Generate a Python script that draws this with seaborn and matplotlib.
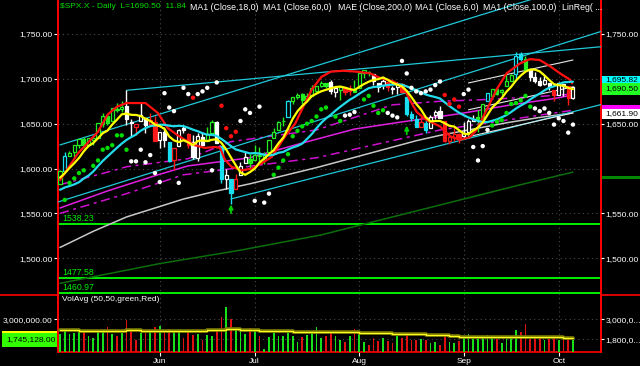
import numpy as np
import pandas as pd
import matplotlib
matplotlib.use("Agg")
import matplotlib.pyplot as plt
from matplotlib.patches import Rectangle
from matplotlib.lines import Line2D
import seaborn as sns

# ---------------- data (S&P 500 daily, 2 May - 4 Oct 2013) ----------------
open_px = [1582.77,1597.60,1614.40,1618.36,1625.95,1632.69,1626.69,1632.10,1633.75,1649.13,1658.07,1652.45,1665.71,1666.20,1669.39,1651.62,1646.67,1652.63,1656.57,1649.14,1652.13,
           1631.71,1640.73,1629.05,1609.94,1625.27,1644.67,1638.64,1629.94,1612.15,1635.52,1630.64,1639.77,1651.83,1624.62,1588.62,1588.77,1577.52,1592.27,1606.44,1611.12,
           1609.78,1614.29,1611.48,1618.65,1634.20,1642.89,1652.50,1657.41,1675.26,1679.59,1682.70,1677.91,1681.05,1686.15,1692.09,1695.53,1696.06,1685.21,1687.31,1690.32,1687.92,1687.76,
           1689.42,1706.10,1708.01,1705.79,1695.30,1693.35,1696.10,1688.37,1690.65,1693.88,1679.61,1661.22,1655.25,1646.81,1650.66,1645.03,1659.92,1664.29,1652.54,1630.25,1633.50,1638.89,
           1635.95,1640.72,1653.28,1657.44,1656.85,1675.11,1681.04,1689.21,1685.04,1691.70,1697.73,1705.74,1727.34,1722.44,1711.44,1702.60,1698.02,1694.05,1695.52,1687.26,
           1682.41,1691.90,1692.35,1678.79]
high_px = [1598.60,1618.46,1619.77,1626.03,1632.78,1635.01,1633.70,1636.00,1651.10,1661.49,1660.51,1667.47,1672.84,1674.93,1687.18,1655.50,1649.78,1674.21,1656.57,1661.91,1658.99,
           1640.42,1646.53,1629.31,1622.56,1644.40,1648.69,1640.13,1637.71,1639.25,1640.80,1646.50,1654.19,1652.45,1624.62,1599.19,1588.77,1593.79,1606.83,1620.07,1615.94,
           1626.61,1624.26,1618.97,1632.07,1644.68,1652.48,1657.92,1676.63,1680.19,1684.51,1683.73,1684.75,1693.12,1692.09,1697.61,1695.53,1698.38,1690.94,1691.85,1690.92,1693.19,1698.43,
           1707.85,1709.67,1709.24,1705.79,1695.30,1700.18,1699.42,1691.49,1696.81,1695.52,1679.61,1663.60,1659.18,1658.92,1656.99,1659.55,1664.85,1669.51,1652.54,1641.18,1646.41,1640.08,
           1651.35,1655.72,1659.17,1664.83,1672.40,1684.09,1689.13,1689.97,1688.73,1704.95,1705.52,1729.44,1729.86,1725.23,1711.44,1707.63,1701.71,1703.85,1695.52,1687.26,
           1696.55,1693.87,1692.35,1691.94]
low_px = [1582.77,1597.60,1614.21,1611.82,1622.70,1623.09,1623.71,1626.74,1633.75,1646.68,1648.60,1652.45,1663.52,1662.67,1648.86,1635.53,1636.88,1652.63,1640.05,1648.61,1630.74,
          1622.72,1623.62,1607.09,1598.23,1625.27,1639.26,1622.92,1610.92,1608.07,1623.96,1630.34,1639.77,1628.91,1584.32,1577.70,1560.33,1577.09,1592.27,1606.44,1601.06,
          1609.78,1606.77,1604.57,1614.71,1634.20,1642.89,1647.66,1657.41,1672.33,1677.89,1671.84,1677.91,1681.05,1684.08,1690.67,1690.09,1682.57,1680.07,1676.03,1681.86,1682.42,1684.94,
          1689.42,1700.68,1703.55,1693.29,1684.91,1688.38,1686.02,1683.35,1682.62,1684.83,1658.59,1652.61,1645.84,1646.08,1639.43,1645.03,1654.81,1656.02,1629.05,1627.47,1630.88,1628.05,
          1633.41,1637.41,1653.07,1640.62,1656.85,1675.11,1678.70,1681.96,1682.22,1691.70,1697.73,1700.35,1720.20,1708.89,1697.10,1694.90,1691.88,1693.11,1687.11,1674.99,
          1682.07,1680.34,1670.36,1677.33]
close_px = [1597.59,1614.42,1617.50,1625.96,1632.69,1626.67,1633.70,1633.77,1650.34,1658.78,1650.47,1667.47,1666.29,1669.16,1655.35,1650.51,1649.60,1660.06,1648.36,1654.41,1630.74,
            1640.42,1631.38,1608.90,1622.56,1643.38,1642.81,1626.13,1612.52,1636.36,1626.73,1639.04,1651.81,1628.93,1588.19,1592.43,1573.09,1588.03,1603.26,1613.20,1606.28,
            1614.96,1614.08,1615.41,1631.89,1640.46,1652.32,1652.62,1675.02,1680.19,1682.50,1676.26,1680.91,1689.37,1692.09,1695.53,1692.39,1685.94,1690.25,1691.65,1685.33,1685.96,1685.73,
            1706.87,1709.67,1707.14,1697.37,1690.91,1697.48,1691.42,1689.47,1694.16,1685.39,1661.32,1655.83,1646.06,1652.35,1642.80,1656.96,1663.50,1656.78,1630.48,1634.96,1638.17,1632.97,
            1639.77,1653.08,1655.08,1655.17,1671.71,1683.99,1689.13,1683.42,1687.99,1697.60,1704.76,1725.52,1722.34,1709.91,1701.84,1697.42,1692.77,1698.67,1691.75,1681.55,
            1695.00,1693.87,1678.66,1690.50]
# closes 9 Apr - 1 May 2013 (history for the moving averages)
prior_close = [1568.61,1587.73,1593.37,1588.85,1552.36,1574.57,1552.01,1541.61,1555.25,1562.50,
               1578.78,1578.79,1585.16,1582.24,1593.61,1597.57,1582.70]
# paint-bar state: g=green, r=red, w=white, c=cyan
bar_signal = ("gcgggggggggggg" "wwrwwrr" "wwcrwwrwww" "ggwcwcrwwg" "gggggggcgg"
              "ggggggwwgr" "rggggwwwrw" "wrcccrcwww" "rrrrwwwggc" "gggggccgww" "wwwrwwrw")
volume = [2.13,2.37,2.10,2.17,2.31,2.21,1.96,1.86,2.31,2.31,2.51,2.10,1.96,2.17,2.94,2.43,1.76,2.17,2.17,2.31,2.51,
          2.57,2.27,2.43,2.37,2.27,1.86,2.21,2.07,2.10,1.76,2.07,1.96,2.31,3.12,3.75,3.02,2.37,2.37,2.13,2.45,
          2.27,1.96,1.19,1.92,2.17,2.00,2.00,2.17,1.96,1.62,1.92,2.07,2.31,2.51,1.86,1.96,2.21,1.96,1.76,1.62,2.00,2.41,
          2.10,1.62,1.46,1.86,1.70,1.86,1.70,1.55,2.00,1.86,2.13,1.76,1.72,1.80,1.72,1.55,1.60,1.46,2.10,1.62,1.55,1.70,
          1.96,2.13,1.80,1.80,1.96,2.07,1.86,1.80,1.55,1.80,1.96,2.33,2.21,2.71,1.80,1.96,1.86,1.76,1.80,1.96,
          1.76,1.92,1.86,1.745128]  # millions
volavg_idx = [0,4,14,17,30,31,35,38,42,49,59,63,70,77,82,84,87,106,108]
volavg_val = [2.33,2.29,2.37,2.31,2.27,2.33,2.41,2.35,2.29,2.25,2.21,2.17,2.11,2.05,2.00,1.94,1.90,1.86,1.86]

red_line_idx = [0,3.8,8,10,12,14,18,20.6,22.7,24.8,26.3,28.4,30.5,32.6,33.7,34.7,36.1,38.3,40.4,42.5,44.6,47.4,49.5,51.6,53,55,57,59.6,62.5,65.3,67.4,70.2,72.3,73.7,75.1,77.2,80,82.1,84.2,86.3,87.7,89.8,91.9,94,96.8,98.9,101,103.2,105.3,107.4,107.8]
red_line_val = [1587,1617,1641,1660,1669,1673,1673,1662,1645,1637,1632,1626,1623,1624,1623,1610,1602,1598,1600,1606,1613,1636,1650,1673,1688,1702,1708,1709,1708,1706,1701,1697,1691,1676,1663,1654,1647,1636,1632,1635,1643,1665,1688,1706,1717,1722,1721,1714,1706,1699,1695]
ma100_idx = [0,7,14,20,26,33,40,47,54,61,68,75,80,87,94,101,108]
ma100_val = [1512,1530,1546,1556,1566,1575,1583,1592,1601,1611,1621,1631,1637,1644,1651,1657,1662]
ma60_idx = [0,10,20,27,30,40,50,62,72,84,95,104,108]
ma60_val = [1556,1575,1592,1603,1605,1612,1627,1644,1652,1661,1671,1678,1682]
env_up_idx = [0,10,14,27,36,54,70,80,90,100,108]
env_up_val = [1582,1596,1602,1611,1630,1643,1671,1675,1677,1680,1683]
env_lo_idx = [0,14,26,54,80,108]
env_lo_val = [1550,1572,1593,1612,1643,1665]
mae_idx = [0,21,38,55,76,97,108]
mae_val = [1472,1494,1509,1526,1554,1582,1596]

green_dot_idx = [1,2,3,4,5,7,8,9,10,11,12,13,14,45,46,47,48,49,50,51,52,53,54,55,56,58,59,64,65,66,67,68,91,92,93,94,95,96,97,98,99]
green_dot_val = [1565,1584,1589,1595,1598,1603,1609,1621,1623,1626,1637,1637,1621,1593,1601,1609,1616,1636,1642,1647,1650,1653,1658,1666,1668,1658,1653,1677,1681,1670,1662,1665,1648,1652,1654,1662,1672,1673,1676,1681,1669]
white_dot_idx = [15,16,17,18,19,20,21,22,23,24,25,26,27,29,30,31,32,33,38,39,40,41,42,43,44,60,61,62,69,70,71,72,73,74,75,76,77,78,79,80,85,86,87,88,89,90,100,101,102,103,104,105,106,107,108]
white_dot_val = [1608,1608,1621,1607,1615,1595,1585,1684,1668,1664,1584,1690,1683,1683,1686,1690,1598,1696,1653,1666,1662,1564,1669,1562,1572,1659,1660,1663,1662,1659,1657,1720,1706,1690,1686,1684,1686,1688,1693,1697,1683,1688,1624,1609,1625,1643,1667,1664,1667,1662,1649,1656,1653,1640,1649]
red_dot_idx = [28,34,35,36,37,81,82,83,84]
red_dot_val = [1679,1670,1645,1636,1641,1682,1672,1677,1669]

trend_lines = [((14, 1687.2), (113.9, 1735.8)),
               ((0, 1626.3), (99.5, 1789.0)),
               ((-0.4, 1562.7), (113.9, 1752.8)),
               ((36, 1566.1), (113.9, 1671.3))]
linreg_start, linreg_end = 86, 108
linreg_up = (1695.4, 1721.0)
linreg_mid = (1665.5, 1691.0)
linreg_lo = (1635.5, 1662.0)
support_levels = [1538.23, 1477.58, 1460.97]
arrow_idx = [36, 73]
arrow_tip = [1563, 1651]

month_idx = [21, 41, 63, 85, 105]
month_lbl = ["Jun", "Jul", "Aug", "Sep", "Oct"]
price_ticks = [1500, 1550, 1600, 1650, 1700, 1750]
right_ticks = [1500, 1550, 1650, 1750]

# ---------------- styling ----------------
sns.set_theme(style="dark", rc={"axes.facecolor": "black", "figure.facecolor": "black",
                                "savefig.facecolor": "black", "text.color": "white"})
plt.rcParams['font.family'] = ['Liberation Sans', 'DejaVu Sans']

FS = 6.0
W, H = 640, 366
fig = plt.figure(figsize=(6.4, 3.66), dpi=100, facecolor="black")
fx = lambda x: x / W
fy = lambda y: 1 - y / H
L, R = 58, 601
ax = fig.add_axes([fx(L), fy(295), (R - L) / W, 295 / H])
axv = fig.add_axes([fx(L), fy(351.5), (R - L) / W, (351.5 - 295) / H])
for a in (ax, axv):
    a.set_facecolor("black")
    a.set_xlim(-0.42, 113.9)
ax.set_ylim(1459.0, 1787.9)
axv.set_ylim(1.051, 4.462)

n = len(close_px)
idx = np.arange(n)
o = np.array(open_px); h = np.array(high_px); lo = np.array(low_px); c = np.array(close_px)

grid_kw = dict(color="#4a4a4a", linestyle=(0, (1, 3)), linewidth=0.8)
ax.grid(False); axv.grid(False)
for m in month_idx:
    ax.axvline(m, zorder=0, **grid_kw)
    axv.axvline(m, zorder=0, **grid_kw)
for p in price_ticks:
    ax.axhline(p, zorder=0, **grid_kw)
for v in (3.0, 1.8):
    axv.axhline(v, zorder=0, **grid_kw)

# support lines
for lvl in support_levels:
    ax.axhline(lvl, color="#00ee00", lw=1.4, zorder=2)
    ax.text(0.5, lvl + 1.2, f"{lvl:.2f}", color="#00ee00", fontsize=6.3, va="bottom", ha="left", zorder=9)

# slow lines
ax.plot(mae_idx, mae_val, color="#0b6e0b", lw=1.1, zorder=2)
sns.lineplot(x=ma100_idx, y=ma100_val, ax=ax, color="#c8c8c8", linewidth=1.1, zorder=3, legend=False)
sns.lineplot(x=ma60_idx, y=ma60_val, ax=ax, color="#e020e0", linewidth=1.1, zorder=3, legend=False)
ax.plot(env_up_idx, env_up_val, color="#d010d0", lw=1.1, ls=(0, (6, 3, 2, 3)), zorder=3)
ax.plot(env_lo_idx, env_lo_val, color="#d010d0", lw=1.1, ls=(0, (6, 3, 2, 3)), zorder=3)

# trend / regression lines
for (x0, y0), (x1, y1) in trend_lines:
    ax.plot([x0, x1], [y0, y1], color="#20c8d8", lw=0.9, zorder=3)
for y0, y1 in (linreg_up, linreg_mid, linreg_lo):
    ax.plot([linreg_start, linreg_end], [y0, y1], color="#e6e6e6", lw=0.8, zorder=3)

# candles
col_map = {"g": "#22ee22", "r": "#ff1a1a", "w": "#ffffff", "c": "#19e0f0"}
cols = [col_map[s] for s in bar_signal]
face = [cols[i] if c[i] < o[i] else "black" for i in range(n)]
ax.vlines(idx, lo, h, colors=cols, linewidth=1.0, zorder=4)
body_lo = np.minimum(o, c)
body_h = np.maximum(np.abs(c - o), 0.8)
ax.bar(idx, body_h, bottom=body_lo, width=0.64, color=face, edgecolor=cols, linewidth=0.9, zorder=5)

# moving averages of the closes
full_close = pd.Series(prior_close + close_px)
k = len(prior_close)
ma6 = full_close.rolling(6).mean().iloc[k:].to_numpy()
ma18 = full_close.rolling(18).mean().iloc[k:].to_numpy()
sns.lineplot(x=red_line_idx, y=red_line_val, ax=ax, color="#ff1010", linewidth=1.6, zorder=6, legend=False)
sns.lineplot(x=idx, y=ma18, ax=ax, color="#22dcec", linewidth=1.6, zorder=6, legend=False)
sns.lineplot(x=idx, y=ma6, ax=ax, color="#ffff00", linewidth=1.6, zorder=7, legend=False)

# dots
sns.scatterplot(x=white_dot_idx, y=white_dot_val, ax=ax, color="white", s=10, edgecolor="none", zorder=8, legend=False)
sns.scatterplot(x=green_dot_idx, y=green_dot_val, ax=ax, color="#00dd00", s=10, edgecolor="none", zorder=8, legend=False)
sns.scatterplot(x=red_dot_idx, y=red_dot_val, ax=ax, color="#ff1010", s=10, edgecolor="none", zorder=8, legend=False)

for ai, at in zip(arrow_idx, arrow_tip):
    ax.annotate("", xy=(ai, at), xytext=(ai, at - 16),
                arrowprops=dict(arrowstyle="-|>", color="#00cc00", lw=1.3, mutation_scale=6), zorder=9)

# volume
prev = [prior_close[-1]] + close_px[:-1]
vcols = ["#18e018" if close_px[i] >= prev[i] else "#e01010" for i in range(n)]
axv.bar(idx, volume, width=0.36, color=vcols, edgecolor="none", linewidth=0, zorder=3)
axv.plot(volavg_idx, volavg_val, color="#7d7d00", lw=2.6, drawstyle="steps-post", zorder=4)
axv.plot(volavg_idx, volavg_val, color="#ffff20", lw=0.9, drawstyle="steps-post", zorder=5)
axv.text(0.5, 4.2, "VolAvg (50,50,green,Red)", color="white", fontsize=FS, va="center", ha="left")

# spines
for a in (ax, axv):
    for s in a.spines.values():
        s.set_visible(False)
    a.spines["left"].set_visible(True); a.spines["right"].set_visible(True)
    a.spines["left"].set_color("#ff0000"); a.spines["right"].set_color("#ff0000")
    a.spines["left"].set_linewidth(1.4); a.spines["right"].set_linewidth(1.4)
axv.spines["bottom"].set_visible(True)
axv.spines["bottom"].set_color("#ff0000")
axv.spines["bottom"].set_linewidth(1.2)

# ticks
fmt = lambda v: f"{v:,.2f}"
ax.set_yticks(price_ticks)
ax.set_yticklabels([fmt(p) for p in price_ticks])
ax.tick_params(axis="y", colors="white", labelsize=FS, length=3, width=0.8, pad=1.2, direction="out", left=True)
ax.tick_params(axis="x", bottom=False, labelbottom=False)
axr = ax.twinx()
axr.set_ylim(ax.get_ylim())
axr.set_yticks(right_ticks)
axr.set_yticklabels([fmt(p) for p in right_ticks])
axr.tick_params(axis="y", colors="white", labelsize=FS, length=2.5, width=0.8, pad=0.8, right=True)
axr.grid(False)
for s in axr.spines.values():
    s.set_visible(False)

axv.set_yticks([3.0, 1.8])
axv.set_yticklabels(["3,000,000.00", ""])
axv.tick_params(axis="y", colors="white", labelsize=FS, length=3, width=0.8, pad=1.2, left=True)
axvr = axv.twinx()
axvr.set_ylim(axv.get_ylim())
axvr.set_yticks([3.0, 1.8])
axvr.set_yticklabels(["3,000,0...", "1,800,0..."])
axvr.tick_params(axis="y", colors="white", labelsize=FS, length=2.5, width=0.8, pad=0.8, right=True)
axvr.grid(False)
for s in axvr.spines.values():
    s.set_visible(False)
axv.set_xticks(month_idx)
axv.set_xticklabels(month_lbl)
axv.tick_params(axis="x", colors="white", labelsize=FS, length=3, width=0.8, pad=1.5, bottom=True)
ax.set_xlabel(""); ax.set_ylabel(""); axv.set_xlabel(""); axv.set_ylabel("")
axr.set_ylabel(""); axvr.set_ylabel("")

# header
hdr = [(60, "$SPX.X - Daily  L=1690.50  11.84", "#00dd00", 6.0),
       (190, "MA1 (Close,18,0)", "white", 6.3), (263, "MA1 (Close,60,0)", "white", 6.3),
       (338, "MAE (Close,200,0)", "white", 6.3), (415, "MA1 (Close,6,0)", "white", 6.3),
       (483, "MA1 (Close,100,0)", "white", 6.3), (562, "LinReg( ...", "white", 6.3)]
for x, t, col, fs in hdr:
    fig.text(fx(x), fy(7), t, color=col, fontsize=fs, va="center", ha="left", zorder=20)

# figure-level decorations (separators and value boxes)
fig.add_artist(Line2D([0, fx(L)], [fy(295)] * 2, color="#ff0000", lw=1.2))
fig.add_artist(Line2D([fx(R), 1], [fy(295)] * 2, color="#ff0000", lw=1.2))

def box(y0, y1, col, text=None, tcol="black", x0=602, x1=640, tx=None):
    fig.add_artist(Rectangle((fx(x0), fy(y1)), (x1 - x0) / W, (y1 - y0) / H,
                             facecolor=col, edgecolor="none", zorder=15))
    if text:
        fig.text(fx(tx if tx else x0 + 3), fy((y0 + y1) / 2), text, color=tcol, fontsize=FS,
                 va="center", ha="left", zorder=16)

box(76, 84, "#00ffff", "1,695.82")
box(83, 95, "#22ff22", "1,690.50")
box(104.5, 108.5, "#ff00ff")
box(109, 118.5, "#ffffff", "1,661.90")
box(175.5, 178.7, "#008800")
box(330.5, 347, "#ffff00", x0=2, x1=57)
box(333, 347, "#33ff00", "1,745,128.00", x0=2, x1=57, tx=6)

fig.savefig("out.png", dpi=100, facecolor="black")
